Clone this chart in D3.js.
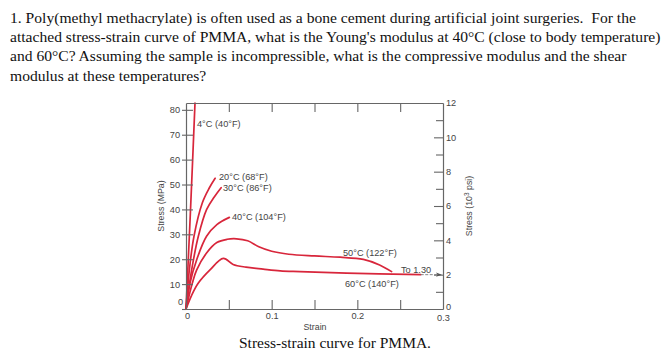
<!DOCTYPE html>
<html><head><meta charset="utf-8">
<script src="https://cdn.jsdelivr.net/npm/d3@7"></script>
<style>
html,body{margin:0;padding:0;background:#fff;}
svg{display:block;}
</style></head>
<body>
<script>
// ---- data ----
const questionLines = [
  "1. Poly(methyl methacrylate) is often used as a bone cement during artificial joint surgeries.  For the",
  "attached stress-strain curve of PMMA, what is the Young's modulus at 40°C (close to body temperature)",
  "and 60°C? Assuming the sample is incompressible, what is the compressive modulus and the shear",
  "modulus at these temperatures?"
];
const caption = "Stress-strain curve for PMMA.";

const curveNames = ["4°C (40°F)", "20°C (68°F)", "30°C (86°F)", "40°C (104°F)", "50°C (122°F)", "60°C (140°F)"];
const strain4  = [0, 0.0053, 0.0105];
const stress4  = [0, 40, 82.7];
const strain20 = [0, 0.0039, 0.0093, 0.019, 0.027, 0.034];
const stress20 = [0, 15.7, 29.2, 42.6, 48.5, 52.5];
const strain30 = [0, 0.0066, 0.0144, 0.024, 0.033, 0.041];
const stress30 = [0, 15.7, 29.2, 39.9, 45.0, 48.7];
const strain40 = [0, 0.0047, 0.0125, 0.024, 0.036, 0.0506];
const stress40 = [0, 10.4, 19.8, 29.2, 33.9, 36.8];
const strain50 = [0, 0.0074, 0.0125, 0.024, 0.036, 0.048, 0.059, 0.072, 0.085, 0.1, 0.12, 0.15, 0.18, 0.207, 0.226, 0.240];
const stress50 = [0, 10.4, 15.7, 22.5, 26.7, 28.0, 28.2, 27.4, 25.0, 23.2, 22.0, 21.3, 20.8, 19.9, 17.7, 15.0];
const strain60 = [0, 0.0066, 0.0144, 0.028, 0.0436, 0.055, 0.07, 0.09, 0.11, 0.133, 0.1875, 0.274];
const stress60 = [0, 5.5, 10.4, 15.7, 20.3, 17.9, 16.8, 16.0, 15.3, 15.0, 14.4, 13.8];

const stressTicks = [0, 10, 20, 30, 40, 50, 60, 70, 80];
const strainTicks = [0, 0.05, 0.1, 0.15, 0.2, 0.25, 0.3];
const strainLabels = ["0", "", "0.1", "", "0.2", "", "0.3"];
const psiTicks = [0, 1, 2, 3, 4, 5, 6, 7, 8, 9, 10, 11, 12];
const psiLabels = ["0", "", "2", "", "4", "", "6", "", "8", "", "10", "", "12"];
const arrowNote = "To 1.30";
const MPA_PER_KSI = 6.895;

// ---- layout ----
const W = 663, H = 360;
const svg = d3.select("body").append("svg").attr("width", W).attr("height", H);
const red = "#d8263b", axisCol = "#666", txtCol = "#444";
const sansFont = "'Liberation Sans', Arial, sans-serif";
const fs = 9.2;

const x = d3.scaleLinear().domain([0, 0.3]).range([186, 443]);
const y = d3.scaleLinear().domain([0, 12 * MPA_PER_KSI]).range([309, 103]);
const yk = d3.scaleLinear().domain([0, 12]).range([309, 103]);

// question text
const qt = svg.append("g").attr("font-family", "'Liberation Serif','Times New Roman',serif")
  .attr("font-size", 15.6).attr("fill", "#111");
questionLines.forEach((t, i) => {
  qt.append("text").attr("x", 10).attr("y", 23 + i * 19.2).attr("xml:space", "preserve")
    .style("white-space", "pre").text(t);
});

// curves
const lineC = d3.line().x(d => x(d[0])).y(d => y(d[1])).curve(d3.curveCatmullRom.alpha(0.5));
const series = [
  [strain4, stress4], [strain20, stress20], [strain30, stress30],
  [strain40, stress40], [strain50, stress50], [strain60, stress60]
];
const cg = svg.append("g");
series.forEach(([sx, sy], i) => {
  const pts = sx.map((v, j) => [v, sy[j]]);
  cg.append("path").attr("d", lineC(pts)).attr("fill", "none")
    .attr("stroke", red).attr("stroke-width", 1.7).attr("stroke-linecap", "round");
});

// axes
function styleAxis(g) {
  g.select(".domain").attr("stroke", axisCol).attr("stroke-width", 1.2);
  g.selectAll(".tick line").attr("stroke", axisCol).attr("stroke-width", 1.1);
  g.selectAll("text").attr("fill", txtCol).attr("font-family", sansFont).attr("font-size", fs);
}
// left: outer + inner ticks
const gl = svg.append("g").attr("transform", `translate(${x(0)},0)`)
  .call(d3.axisLeft(y).tickValues(stressTicks).tickSize(4).tickSizeOuter(0).tickPadding(2).tickFormat(d3.format("d")));
styleAxis(gl);
gl.selectAll(".tick").filter(d => d === 0).select("text").attr("dy", "-0.5em").attr("x", -3);
svg.append("g").attr("transform", `translate(${x(0)},0)`)
  .call(d3.axisLeft(y).tickValues(stressTicks.slice(1)).tickSize(-7).tickSizeOuter(0).tickFormat(""))
  .call(g => { g.select(".domain").remove(); g.selectAll(".tick line").attr("stroke", axisCol).attr("stroke-width", 1.1); });

// bottom
const gb = svg.append("g").attr("transform", `translate(0,${y(0)})`)
  .call(d3.axisBottom(x).tickValues(strainTicks).tickSize(-9).tickSizeOuter(0).tickPadding(3)
    .tickFormat((d, i) => strainLabels[i]));
styleAxis(gb);
gb.selectAll(".tick").filter(d => d === 0 || d === 0.3).select("line").remove();
gb.selectAll(".tick").filter(d => d === 0).select("text").attr("x", 1);
gb.selectAll(".tick").filter(d => d === 0.3).select("text").attr("dy", "0.95em");

// top
const gt = svg.append("g").attr("transform", `translate(0,${yk(12)})`)
  .call(d3.axisTop(x).tickValues(strainTicks.slice(1, -1)).tickSize(-9).tickSizeOuter(0).tickFormat(""));
styleAxis(gt);

// right
const gr = svg.append("g").attr("transform", `translate(${x(0.3)},0)`)
  .call(d3.axisRight(yk).tickValues(psiTicks).tickSize(-9).tickSizeOuter(0).tickPadding(3)
    .tickFormat((d, i) => psiLabels[i]));
styleAxis(gr);
gr.selectAll(".tick").filter(d => d % 2 === 1).select("line").attr("x2", -7);
gr.selectAll(".tick").filter(d => d === 0 || d === 12).select("line").remove();
gr.selectAll(".tick").filter(d => d === 0).select("text").attr("dy", "0.05em");

// axis titles
svg.append("text").attr("transform", `translate(164,${(y(0) + y(82.74)) / 2}) rotate(-90)`)
  .attr("text-anchor", "middle").attr("font-family", sansFont).attr("font-size", 8.8).attr("fill", txtCol)
  .text("Stress (MPa)");
const rt = svg.append("text").attr("transform", `translate(472,${(y(0) + y(82.74)) / 2}) rotate(-90)`)
  .attr("text-anchor", "middle").attr("font-family", sansFont).attr("font-size", 8.8).attr("fill", txtCol);
rt.append("tspan").text("Stress (10");
rt.append("tspan").attr("font-size", 6.5).attr("dy", -3.5).text("3");
rt.append("tspan").attr("dy", 3.5).text(" psi)");
svg.append("text").attr("x", 315).attr("y", 330).attr("text-anchor", "middle")
  .attr("font-family", sansFont).attr("font-size", 8.8).attr("fill", txtCol).text("Strain");

// curve labels
const labelPos = [[197, 127], [219, 179.5], [223, 190.5], [232, 219.5], [343, 256], [345, 286.5]];
curveNames.forEach((t, i) => {
  svg.append("text").attr("x", labelPos[i][0]).attr("y", labelPos[i][1])
    .attr("font-family", sansFont).attr("font-size", fs).attr("fill", txtCol).text(t);
});

// arrow note
const ay = y(2 * MPA_PER_KSI);
svg.append("line").attr("x1", x(0.274)).attr("x2", x(0.3) - 4).attr("y1", ay).attr("y2", ay)
  .attr("stroke", "#777").attr("stroke-width", 0.9).attr("stroke-dasharray", "3,1.5");
svg.append("path").attr("d", `M${x(0.3) - 1},${ay} l-6,-2.2 l1.5,2.2 l-1.5,2.2 z`).attr("fill", "#555");
svg.append("text").attr("x", 401).attr("y", 272.5).attr("font-family", sansFont).attr("font-size", fs)
  .attr("fill", txtCol).text(arrowNote);

// caption
svg.append("text").attr("x", 335).attr("y", 348).attr("text-anchor", "middle")
  .attr("font-family", "'Liberation Serif','Times New Roman',serif").attr("font-size", 15.5).attr("fill", "#111")
  .text(caption);
</script>
</body></html>
